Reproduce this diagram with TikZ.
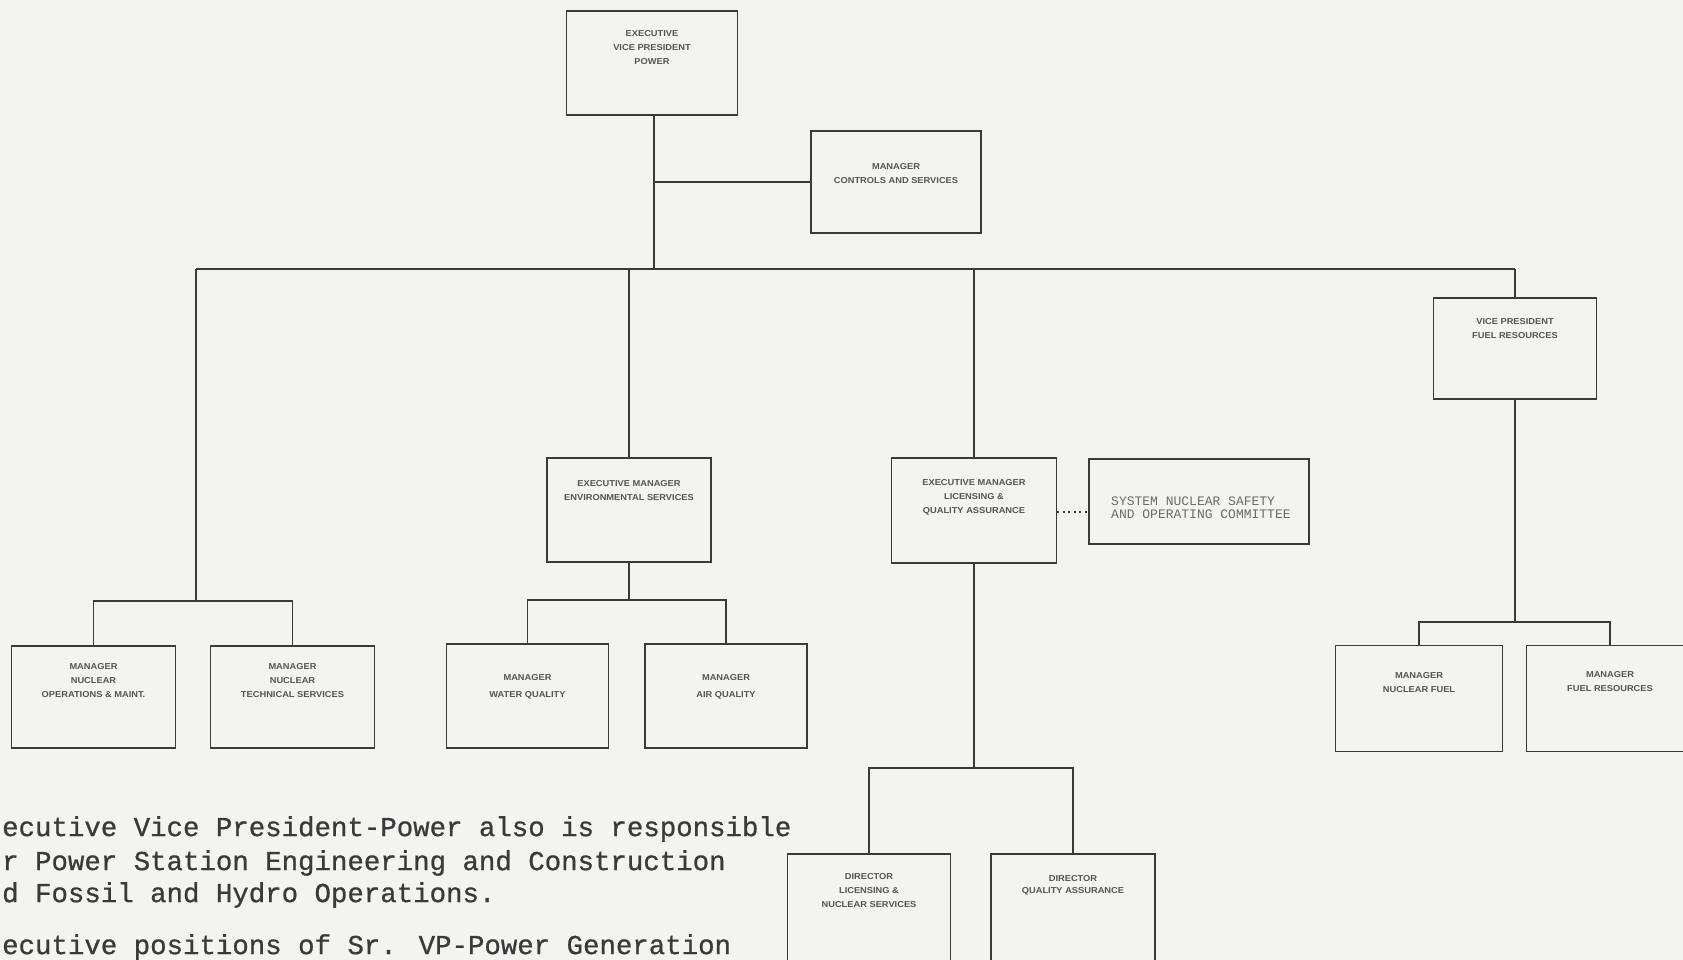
\documentclass[tikz,border=0pt]{standalone}
\usepackage{fontspec}
\setmainfont{Liberation Sans}
\newfontfamily\typewriter[FakeBold=0.8]{Liberation Mono}
\newfontfamily\lighttype{Liberation Mono}
\definecolor{paper}{HTML}{F3F3F2}
\definecolor{ink}{HTML}{3A3A3A}
\definecolor{boxink}{HTML}{555555}
\definecolor{faintink}{HTML}{6A6A6A}
\tikzset{
  orgbox/.style={draw=ink, line width=1.8pt, inner sep=0pt},
  boxtext/.style={text=boxink, align=center, inner sep=0pt, xscale=1.08, transform shape,
    font=\bfseries\fontsize{8.6}{14}\selectfont},
  link/.style={draw=ink, line width=1.8pt},
  dotlink/.style={draw=ink, line width=1.6pt, dash pattern=on 2pt off 3.5pt},
  notetext/.style={text=ink, anchor=west, inner sep=0pt, font=\typewriter\fontsize{27.4}{33}\selectfont}
}
% box: name, centre x, centre y, width, height, text offset from top, text
\newcommand{\orgunit}[8][]{%
  \node[orgbox, minimum width=#5pt, minimum height=#6pt] (#2) at (#3,#4) {};
  \node[boxtext, anchor=north, #1] (#2-t) at ([yshift=-#7pt]#2.north) {#8};
}
\begin{document}
\begin{tikzpicture}[x=1pt, y=-1pt]
  \fill[paper] (0,0) rectangle (1683,960);
  \clip (0,0) rectangle (1683,960);

  % top of the chart
  \orgunit{evp}{652}{63}{171}{104}{20}{EXECUTIVE\\VICE PRESIDENT\\POWER}
  \orgunit{ctl}{896}{182}{170}{102}{33}{MANAGER\\CONTROLS AND SERVICES}

  % second level
  \orgunit{vpf}{1515}{348.5}{163}{101}{21}{VICE PRESIDENT\\FUEL RESOURCES}
  \orgunit{env}{629}{510}{164}{104}{23}{EXECUTIVE MANAGER\\ENVIRONMENTAL SERVICES}
  \orgunit{lqa}{974}{510.5}{165}{105}{22}{EXECUTIVE MANAGER\\LICENSING \&\\QUALITY ASSURANCE}
  \node[orgbox, minimum width=220pt, minimum height=85pt] (snc) at (1199,501.5) {};
  \node[text=faintink, anchor=north west, align=left, inner sep=0pt,
        font=\lighttype\fontsize{13}{12.5}\selectfont] (snc-t) at (1111,497)
        {SYSTEM NUCLEAR SAFETY\\AND OPERATING COMMITTEE};

  % third level
  \orgunit{nom}{93.5}{697}{164}{102}{18}{MANAGER\\NUCLEAR\\OPERATIONS \& MAINT.}
  \orgunit{nts}{292.5}{697}{164}{102}{18}{MANAGER\\NUCLEAR\\TECHNICAL SERVICES}
  \orgunit[font=\bfseries\fontsize{8.6}{17}\selectfont]{wq}{527.5}{696}{162}{104}{31}{MANAGER\\WATER QUALITY}
  \orgunit[font=\bfseries\fontsize{8.6}{17}\selectfont]{aq}{726}{696}{162}{104}{31}{MANAGER\\AIR QUALITY}
  \orgunit{nf}{1419}{698.5}{167}{106}{28}{MANAGER\\NUCLEAR FUEL}
  \orgunit{fr}{1610}{698.5}{167}{106}{27}{MANAGER\\FUEL RESOURCES}
  \orgunit{dl}{869}{908}{163}{108}{20}{DIRECTOR\\LICENSING \&\\NUCLEAR SERVICES}
  \orgunit[font=\bfseries\fontsize{8.6}{12.5}\selectfont]{dq}{1073}{908}{164}{108}{22}{DIRECTOR\\QUALITY ASSURANCE}

  % junction points of the connector lines
  \coordinate (trunk) at (654,269);
  \coordinate (busL) at (196,269);
  \coordinate (busR) at (1515,269);
  \coordinate (nucj) at (196,601);
  \coordinate (envj) at (629,600);
  \coordinate (fuelj) at (1515,622);
  \coordinate (dirj) at (974,768);

  % main line and bus
  \draw[link] (evp.south -| trunk) -- (trunk);
  \draw[link] (ctl.west) -- (ctl.west -| trunk);
  \draw[link] (busL) -- (busR);
  \draw[link] (env.north) -- (env.north |- busL);
  \draw[link] (lqa.north) -- (lqa.north |- busL);
  \draw[link] (vpf.north) -- (busR);

  % branches to the lower boxes
  \draw[link] (busL) -- (nucj);
  \draw[link] (nom.north) |- (nucj) -| (nts.north);
  \draw[link] (env.south) -- (envj);
  \draw[link] (wq.north) |- (envj) -| (aq.north);
  \draw[link] (vpf.south) -- (fuelj);
  \draw[link] (nf.north) |- (fuelj) -| (fr.north);
  \draw[link] (lqa.south) -- (dirj);
  \draw[link] (dl.north) |- (dirj) -| (dq.north);

  % advisory committee
  \draw[dotlink] (lqa.east |- 0,512) -- (snc.west |- 0,512);

  % notes below the chart
  \node[notetext] (n1) at (2,829) {ecutive Vice President-Power also is responsible};
  \node[notetext] (n2) at (2,863) {r Power Station Engineering and Construction};
  \node[notetext] (n3) at (2,895) {d Fossil and Hydro Operations.};
  \node[notetext] (n4) at (2,947) {ecutive positions of Sr. VP-Power Generation};
\end{tikzpicture}
\end{document}
